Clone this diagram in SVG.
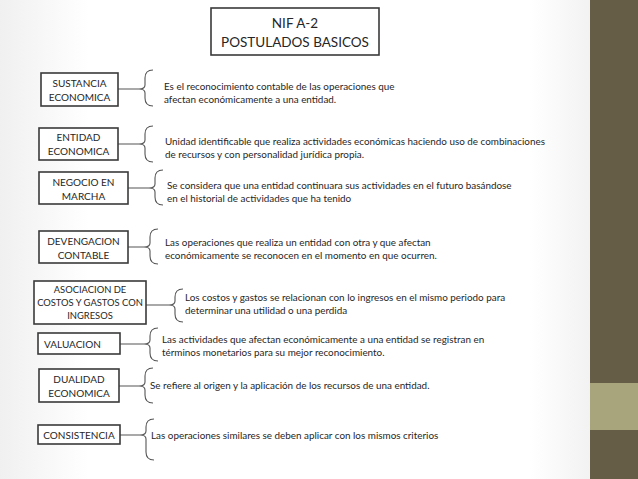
<svg xmlns="http://www.w3.org/2000/svg" width="638" height="479" viewBox="0 0 638 479">
<defs>
<linearGradient id="bg" x1="0" y1="0" x2="1" y2="0">
<stop offset="0" stop-color="#f0f0f0"/><stop offset="0.15" stop-color="#ffffff"/><stop offset="0.9" stop-color="#ffffff"/><stop offset="1" stop-color="#f2f2f2"/>
</linearGradient>
<style>
text{font-family:Lato,"Liberation Sans",sans-serif;fill:#262626}
.n{font-size:10px;text-anchor:middle}
.d{font-size:9.9px}
.box{fill:#fff;stroke:#3a3a3a;stroke-width:1.6}
.br{fill:none;stroke:#555;stroke-width:1.1}
</style>
</defs>
<rect width="590" height="479" fill="url(#bg)"/>
<rect x="590" width="48" height="479" fill="#665d46"/>
<rect x="590" y="383" width="48" height="47" fill="#a8a57c"/>
<g id="title"><rect class="box" x="211" y="8" width="168" height="47"/>
<text class="n" x="295" y="28" style="font-size:13.5px">NIF A-2</text>
<text class="n" x="295" y="47" style="font-size:13.5px">POSTULADOS BASICOS</text></g>
<g id="connectors">
<path class="br" d="M118 89H139M153 70Q145 70 145 78V85Q145 89 139 89Q145 89 145 93V98Q145 106 153 106"/>
<path class="br" d="M118 144H139M153 126Q145 126 145 134V140Q145 144 139 144Q145 144 145 148V154Q145 162 153 162"/>
<path class="br" d="M128 188H149M163 170Q155 170 155 178V184Q155 188 149 188Q155 188 155 192V197Q155 205 163 205"/>
<path class="br" d="M128 247H144M158 229Q150 229 150 237V243Q150 247 144 247Q150 247 150 251V256Q150 264 158 264"/>
<path class="br" d="M146 305H169M183 289Q175 289 175 297V301Q175 305 169 305Q175 305 175 309V314Q175 322 183 322"/>
<path class="br" d="M120 344H144M158 328Q150 328 150 336V340Q150 344 144 344Q150 344 150 348V353Q150 361 158 361"/>
<path class="br" d="M119 386H139M153 368Q145 368 145 376V382Q145 386 139 386Q145 386 145 390V395Q145 403 153 403"/>
<path class="br" d="M120 435H140M154 419Q146 419 146 427V431Q146 435 140 435Q146 435 146 439V452Q146 460 154 460"/>
</g>
<g id="n1"><rect class="box" x="41" y="73" width="77" height="33"/><text class="n" x="79.5" y="87">SUSTANCIA</text><text class="n" x="79.5" y="101">ECONOMICA</text>
<text class="d" x="164" y="90">Es el reconocimiento contable de las operaciones que</text><text class="d" x="164" y="103">afectan económicamente a una entidad.</text></g>
<g id="n2"><rect class="box" x="39" y="128" width="79" height="32"/><text class="n" x="78.5" y="141">ENTIDAD</text><text class="n" x="78.5" y="155">ECONOMICA</text>
<text class="d" x="165" y="145">Unidad identificable que realiza actividades económicas haciendo uso de combinaciones</text><text class="d" x="165" y="158">de recursos y con personalidad  jurídica propia.</text></g>
<g id="n3"><rect class="box" x="39" y="172" width="89" height="32"/><text class="n" x="83.5" y="186">NEGOCIO EN</text><text class="n" x="83.5" y="200">MARCHA</text>
<text class="d" x="167" y="189">Se considera que una entidad  continuara sus actividades en el futuro basándose</text><text class="d" x="167" y="202">en el historial de actividades que ha tenido</text></g>
<g id="n4"><rect class="box" x="39" y="231" width="89" height="32"/><text class="n" x="83.5" y="245">DEVENGACION</text><text class="n" x="83.5" y="259">CONTABLE</text>
<text class="d" x="165" y="246">Las operaciones que realiza un entidad con otra  y que afectan</text><text class="d" x="165" y="259">económicamente se reconocen en el momento en que ocurren.</text></g>
<g id="n5"><rect class="box" x="34" y="281" width="112" height="43"/><text class="n" x="90" y="293" style="font-size:9.4px">ASOCIACION  DE</text><text class="n" x="90" y="306" style="font-size:9.4px">COSTOS Y GASTOS CON</text><text class="n" x="90" y="319" style="font-size:9.4px">INGRESOS</text>
<text class="d" x="185" y="301">Los costos y gastos se relacionan con lo ingresos en el mismo periodo para</text><text class="d" x="185" y="314">determinar una utilidad o una perdida</text></g>
<g id="n6"><rect class="box" x="38" y="333" width="82" height="21"/><text x="44" y="348" style="font-size:10px">VALUACION</text>
<text class="d" x="162" y="343">Las actividades que afectan económicamente a una entidad se  registran en</text><text class="d" x="162" y="356">términos monetarios para su mejor reconocimiento.</text></g>
<g id="n7"><rect class="box" x="39" y="369" width="80" height="33"/><text class="n" x="79" y="383">DUALIDAD</text><text class="n" x="79" y="397">ECONOMICA</text>
<text class="d" x="150" y="389">Se refiere al origen y la aplicación de los recursos de una entidad.</text></g>
<g id="n8"><rect class="box" x="38" y="425" width="82" height="19"/><text class="n" x="79" y="439">CONSISTENCIA</text>
<text class="d" x="151" y="439">Las operaciones similares se deben aplicar con los mismos criterios</text></g>
</svg>
